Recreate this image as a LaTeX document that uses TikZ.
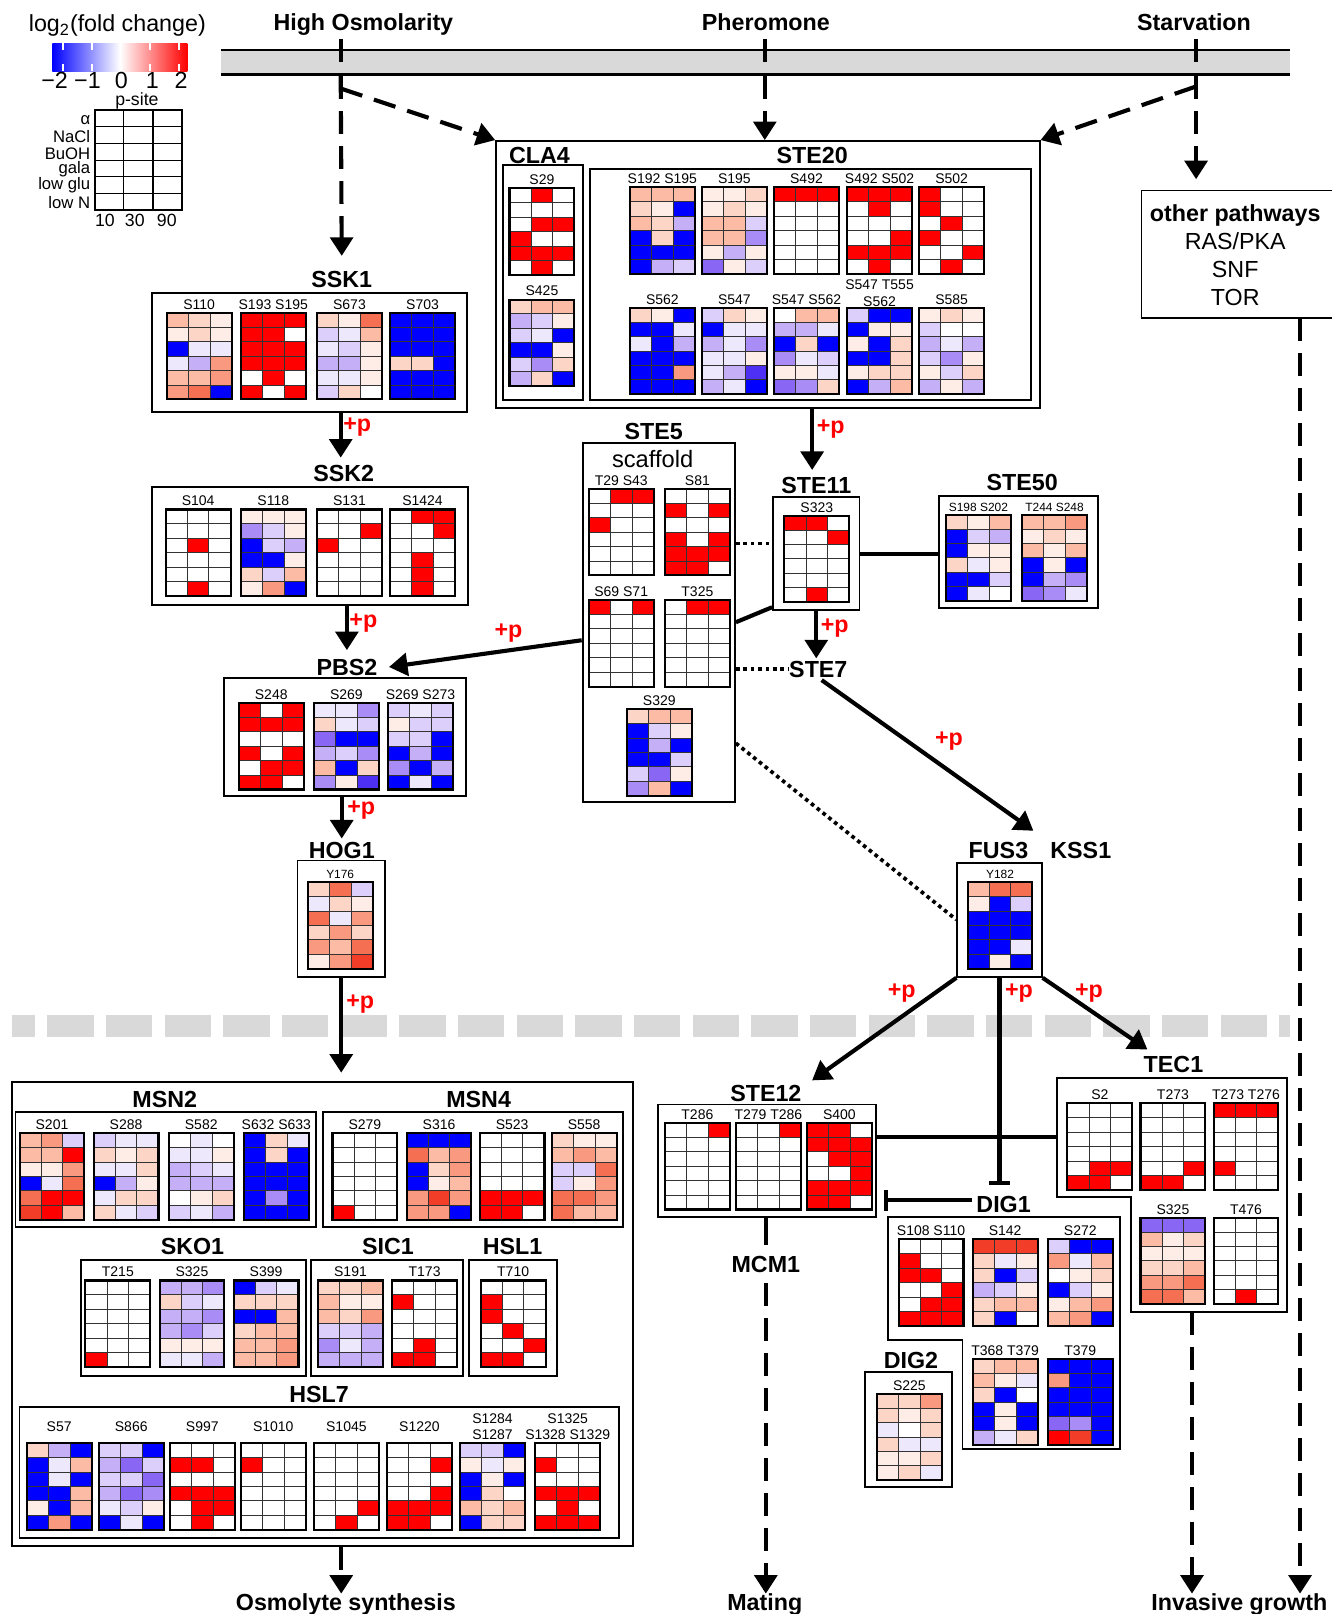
\documentclass[tikz,border=0pt]{standalone}
\usepackage{fontspec}
\setmainfont{Liberation Sans}
\usetikzlibrary{arrows.meta,fit,calc}
\definecolor{hm0}{HTML}{FFFFFF}
\definecolor{hm1}{HTML}{FEEDE6}
\definecolor{hm2}{HTML}{FDD5C6}
\definecolor{hm3}{HTML}{FBBBA5}
\definecolor{hm4}{HTML}{F99A80}
\definecolor{hm5}{HTML}{F56F52}
\definecolor{hm6}{HTML}{F23E28}
\definecolor{hmR}{HTML}{FF0000}
\definecolor{hma}{HTML}{EEE8FD}
\definecolor{hmb}{HTML}{DCCFFB}
\definecolor{hmc}{HTML}{C5B0F8}
\definecolor{hmd}{HTML}{A98CF6}
\definecolor{hme}{HTML}{8A66F4}
\definecolor{hmf}{HTML}{4E30F5}
\definecolor{hmB}{HTML}{0000FF}
\definecolor{memgray}{HTML}{D9D9D9}
\definecolor{gridc}{HTML}{333333}
\newcommand{\fgene}{\fontsize{11.3}{13}\selectfont\bfseries}
\newcommand{\fsite}{\fontsize{6.8}{8}\selectfont}
\newcommand{\ssm}{\fontsize{5.8}{7}\selectfont}
\newcommand{\fleg}{\fontsize{8.6}{10}\selectfont}
\newcommand{\frow}{\fontsize{8.1}{9}\selectfont}
\newcommand{\fmid}{\fontsize{11.3}{13.5}\selectfont}
% heatmap: [label gap]{id}{x}{y}{label}{18 cells}
\newcommand{\hm}[6][2]{%
  \foreach \hv [count=\hk from 0] in {#6}{%
    \pgfmathtruncatemacro{\hr}{floor(\hk/3)}%
    \pgfmathtruncatemacro{\hc}{\hk-3*\hr}%
    \fill[hm\hv] ({#3+21*\hc},{#4+14*\hr}) rectangle ++(21,14);
  }
  \draw[hmgrid] ({#3+21},{#4}) -- ++(0,84) ({#3+42},{#4}) -- ++(0,84);
  \foreach \hj in {1,...,5}{\draw[hmgrid] ({#3},{#4+14*\hj}) -- ++(63,0);}
  \node[hmframe, anchor=north west] (#2) at (#3,#4) {};
  \node[site, anchor=south] (#2-l) at ({#3+31.5},{#4-#1}) {#5};
}
\begin{document}
\begin{tikzpicture}[x=0.5pt,y=-0.5pt,
  gene/.style={font=\fgene, inner sep=0pt},
  site/.style={font=\fsite, inner sep=0.5pt, align=center},
  box/.style={draw, line width=0.9pt, inner sep=0pt},
  hmframe/.style={draw, line width=1pt, minimum width=31.5pt, minimum height=42pt, inner sep=0pt, outer sep=0pt},
  hmgrid/.style={line width=0.45pt, gridc},
  arr/.style={line width=2pt, -{Triangle[length=9pt,width=11pt]}},
  dsh/.style={dash pattern=on 11pt off 6pt},
  dotl/.style={line width=1.8pt, dash pattern=on 1.8pt off 1.8pt},
  inh/.style={line width=2pt, -{Bar[width=10pt,line width=2pt]}},
  plusp/.style={font=\fgene, text=hmR, inner sep=0pt},
  leg/.style={font=\fleg, inner sep=0pt},
  rowl/.style={font=\frow, inner sep=0pt, anchor=east},
]
\useasboundingbox[fill=white] (0,0) rectangle (1294,1568);

% ---------------- legend
\node[font=\fmid, inner sep=0pt, anchor=base] (legt) at (114,31) {log\textsubscript{2}(fold change)};
\shade[left color=hmB, right color=hmR, middle color=white] (51,42) rectangle (182,69);
\foreach \tx in {61,89,118,146,174}{
  \draw[white, line width=1pt] (\tx,42) -- (\tx,49) (\tx,62) -- (\tx,69);
}
\node[font=\fmid, inner sep=0pt] (lg1) at (53,78) {−2};
\node[font=\fmid, inner sep=0pt] (lg2) at (85,78) {−1};
\node[font=\fmid, inner sep=0pt] (lg3) at (118,78) {0};
\node[font=\fmid, inner sep=0pt] (lg4) at (148,78) {1};
\node[font=\fmid, inner sep=0pt] (lg5) at (176,78) {2};
\node[leg] (psite) at (133,98) {p-site};
\draw[line width=1pt] (92,107) rectangle (177,204);
\draw[line width=0.6pt] (120.3,107) -- (120.3,204) (148.7,107) -- (148.7,204);
\foreach \k in {1,...,5}{\draw[line width=0.5pt] (92,{107+16.17*\k}) -- (177,{107+16.17*\k});}
\node[rowl] (lr1) at (88,117) {α};
\node[rowl] (lr2) at (88,133) {NaCl};
\node[rowl] (lr3) at (88,149) {BuOH};
\node[rowl] (lr4) at (88,164.5) {gala};
\node[rowl] (lr5) at (88,180) {low glu};
\node[rowl] (lr6) at (88,197) {low N};
\node[leg] (lc1) at (102,214) {10};
\node[leg] (lc2) at (131,214) {30};
\node[leg] (lc3) at (162,214) {90};

% ---------------- membrane and signals
\node[fit={(215,49) (1253,72)}, fill=memgray, inner sep=0pt] (memb) {};
\draw[line width=1.1pt] (memb.north west) -- (memb.north east) (memb.south west) -- (memb.south east);
\node[gene, anchor=base] (hosm) at (353,30) {High Osmolarity};
\node[gene, anchor=base] (pher) at (744,30) {Pheromone};
\node[gene, anchor=base] (starv) at (1160,30) {Starvation};
\coordinate (hoT) at (331,38); \coordinate (hoB) at (331,74); \coordinate (hoD) at (331,86);
\coordinate (phT) at (743,38); \coordinate (phB) at (743,74);
\coordinate (stT) at (1162,38); \coordinate (stB) at (1162,74); \coordinate (stD) at (1162,84);
\draw[line width=2pt] (hoT) -- (331,60);
\draw[line width=2pt] (phT) -- (743,60);
\draw[line width=2pt] (stT) -- (1162,60);

% gray dashed divider
\draw[memgray, line width=10.5pt, dash pattern=on 22.5pt off 6pt, dash phase=11.5pt] (12,997) -- (1253,997);

% ---------------- boxes
\node[box, fit={(148,285) (454,400)}] (ssk1) {};
\node[box, fit={(148,473) (455,588)}] (ssk2) {};
\node[box, fit={(218,659) (453,773)}] (pbs2) {};
\node[box, fit={(289,836) (374,949)}] (hog1) {};
\node[box, fit={(482,137) (1010,396)}] (cs) {};
\node[box, fit={(489,160) (566,389)}] (cla4in) {};
\node[box, fit={(573,164) (1002,389)}] (ste20in) {};
\node[box, fit={(566,430) (714,779)}] (ste5) {};
\node[box, fit={(751,483) (835,593)}] (ste11) {};
\node[box, fit={(912,482) (1067,591)}] (ste50) {};
\node[box, fit={(930,838) (1012,949)}] (fus3) {};
\node[box, fit={(12,1051) (615,1502)}] (osm) {};
\node[box, fit={(15,1080) (307,1192)}] (msn2) {};
\node[box, fit={(314,1080) (605,1192)}] (msn4) {};
\node[box, fit={(79,1224) (297,1337)}] (sko1) {};
\node[box, fit={(302,1224) (450,1337)}] (sic1) {};
\node[box, fit={(456,1224) (541,1337)}] (hsl1) {};
\node[box, fit={(19,1367) (601,1494)}] (hsl7) {};
\node[box, fit={(639,1073) (851,1182)}] (ste12) {};
\node[box, fit={(840,1333) (925,1445)}] (dig2) {};
\node[box, fit={(1109,185) (1300,309)}] (oth) {};
\draw[line width=0.9pt] (1027,1047) -- (1250,1047) -- (1250,1275) -- (1099,1275) -- (1099,1163) -- (1027,1163) -- cycle;
\draw[line width=0.9pt] (863,1182) -- (1088,1182) -- (1088,1408) -- (935,1408) -- (935,1302) -- (863,1302) -- cycle;
\coordinate (tecW) at (1027,1105);
\coordinate (tecBot) at (1158,1275);
\coordinate (rx) at (1263,309);

\node[font=\fmid, align=center, inner sep=0pt] (otht) at (1200,248) {\textbf{other pathways}\\RAS/PKA\\SNF\\TOR};

% ---------------- gene labels
\node[gene] (ssk1l) at (332,272) {SSK1};
\node[gene] (ssk2l) at (334,460) {SSK2};
\node[gene] (pbs2l) at (337,648) {PBS2};
\node[gene] (hog1l) at (332,826) {HOG1};
\node[gene] (cla4l) at (524,151) {CLA4};
\node[gene] (ste20l) at (789,151) {STE20};
\node[gene] (ste5l) at (635,419) {STE5};
\node[font=\fontsize{11.5}{13}\selectfont, inner sep=0pt] (scaf) at (634,446) {scaffold};
\node[gene] (ste11l) at (793,472) {STE11};
\node[gene] (ste50l) at (993,469) {STE50};
\node[gene] (ste7l) at (795,650) {STE7};
\node[gene] (fus3l) at (970,826) {FUS3};
\node[gene] (kss1l) at (1050,826) {KSS1};
\node[gene] (msn2l) at (160,1068) {MSN2};
\node[gene] (msn4l) at (465,1068) {MSN4};
\node[gene] (sko1l) at (187,1211) {SKO1};
\node[gene] (sic1l) at (377,1211) {SIC1};
\node[gene] (hsl1l) at (498,1211) {HSL1};
\node[gene] (hsl7l) at (310,1355) {HSL7};
\node[gene] (ste12l) at (744,1062) {STE12};
\node[gene] (tec1l) at (1140,1034) {TEC1};
\node[gene] (dig1l) at (975,1170) {DIG1};
\node[gene] (dig2l) at (885,1322) {DIG2};
\node[gene] (mcm1l) at (744,1228) {MCM1};
\node[gene, anchor=base] (osl) at (336,1565) {Osmolyte synthesis};
\node[gene, anchor=base] (mat) at (743,1565) {Mating};
\node[gene, anchor=base] (inv) at (1204,1565) {Invasive growth};

% ---------------- heatmaps
% SSK1
\hm{ssk1a}{162}{304}{S110}{3,2,1,1,2,1,B,a,a,a,c,4,3,3,4,4,5,B}
\hm{ssk1b}{234}{304}{S193 S195}{R,R,R,R,R,0,R,R,R,R,R,R,0,R,0,R,0,R}
\hm{ssk1c}{308}{304}{S673}{2,1,5,b,a,3,a,b,1,c,c,1,a,a,1,b,2,0}
\hm{ssk1d}{379}{304}{S703}{B,B,B,B,B,B,B,B,B,2,2,B,B,B,B,B,B,B}
% SSK2
\hm{ssk2a}{161}{495}{S104}{0,0,0,0,0,0,0,R,0,0,0,0,0,0,0,0,R,0}
\hm{ssk2b}{234}{495}{S118}{1,1,1,d,b,1,B,b,c,B,B,1,2,b,3,1,4,B}
\hm{ssk2c}{308}{495}{S131}{0,0,0,0,0,R,R,0,0,0,0,0,0,0,0,0,0,0}
\hm{ssk2d}{379}{495}{S1424}{0,R,R,0,0,R,0,0,0,0,R,0,0,R,0,0,R,0}
% PBS2
\hm{pbs2a}{232}{683}{S248}{R,0,R,R,R,R,0,0,0,R,0,R,0,R,R,R,R,0}
\hm{pbs2b}{305}{683}{S269}{a,a,d,2,a,b,e,B,B,c,b,d,3,B,2,d,1,f}
\hm{pbs2c}{377}{683}{S269 S273}{b,a,b,1,b,b,b,b,B,B,c,B,d,B,c,B,a,B}
% HOG1
\hm{hog1a}{299}{857}{\ssm Y176}{2,5,b,a,2,1,5,a,4,2,4,2,4,3,5,1,4,6}
% CLA4
\hm{cla4a}{495}{183}{S29}{0,R,0,0,0,0,0,R,R,R,0,0,R,R,R,0,R,0}
\hm{cla4b}{495}{291}{S425}{2,3,3,c,b,1,b,a,B,B,B,1,b,d,2,c,2,B}
% STE20
\hm{s20a}{612}{182}{S192 S195}{3,3,3,2,1,B,3,2,c,B,2,B,B,B,B,B,c,b}
\hm{s20b}{682}{182}{S195}{1,1,2,1,2,1,3,3,b,3,3,d,1,c,1,e,1,b}
\hm{s20c}{752}{182}{S492}{R,R,R,0,0,0,0,0,0,0,0,0,0,0,0,0,0,0}
\hm{s20d}{823}{182}{S492 S502}{R,R,R,0,R,0,0,0,0,0,0,R,R,R,R,0,R,0}
\hm{s20e}{893}{182}{S502}{R,0,0,R,0,0,0,R,0,R,0,0,0,0,R,0,R,0}
\hm{s20f}{612}{299}{S562}{2,1,B,B,B,a,a,B,c,B,B,B,B,B,4,B,B,B}
\hm{s20g}{682}{299}{S547}{b,2,1,B,a,a,c,a,d,a,a,1,a,c,f,c,a,B}
\hm{s20h}{752}{299}{S547 S562}{0,3,3,c,c,a,B,2,B,d,a,b,1,1,a,e,d,2}
\hm[0]{s20i}{823}{299}{S547 T555\\S562}{b,B,B,B,1,1,1,B,2,B,B,2,1,2,2,B,c,3}
\hm{s20j}{893}{299}{S585}{1,2,1,b,0,0,c,a,c,b,d,1,1,b,2,c,1,c}
% STE5
\hm{s5a}{572}{475}{T29 S43}{0,R,R,0,0,0,R,0,0,0,0,0,0,0,0,0,0,0}
\hm{s5b}{646}{475}{S81}{0,0,0,R,0,R,0,0,0,R,0,R,R,R,R,R,R,0}
\hm{s5c}{572}{583}{S69 S71}{R,0,R,0,0,0,0,0,0,0,0,0,0,0,0,0,0,0}
\hm{s5d}{646}{583}{T325}{0,R,R,0,0,0,0,0,0,0,0,0,0,0,0,0,0,0}
\hm{s5e}{609}{689}{S329}{2,3,3,B,b,1,B,c,B,B,B,b,b,e,1,d,3,B}
% STE11
\hm{s11a}{762}{501}{S323}{R,R,0,0,0,R,0,0,0,0,0,0,0,0,0,0,R,0}
% STE50
\hm{s50a}{919}{500}{\ssm S198 S202}{2,1,3,B,b,c,B,1,1,2,a,1,B,B,b,B,a,0}
\hm{s50b}{993}{500}{\ssm T244 S248}{3,3,4,1,2,1,3,1,3,B,1,B,B,c,d,e,d,a}
% FUS3
\hm{fus3a}{940}{857}{\ssm Y182}{3,5,5,1,B,b,B,B,B,B,B,B,B,B,a,B,1,B}
% MSN2
\hm{msn2a}{19}{1101}{S201}{3,4,b,3,3,R,1,1,4,B,a,5,5,R,R,6,R,3}
\hm{msn2b}{91}{1101}{S288}{b,a,a,2,1,2,a,a,2,B,c,1,a,2,2,2,a,b}
\hm{msn2c}{164}{1101}{S582}{0,a,0,a,a,1,c,b,a,c,c,c,0,1,2,b,a,c}
\hm{msn2d}{237}{1101}{S632 S633}{B,2,a,B,2,B,B,B,B,B,B,B,B,d,B,B,B,B}
% MSN4
\hm{msn4a}{323}{1101}{S279}{0,0,0,0,0,0,0,0,0,0,0,0,0,0,0,R,0,0}
\hm{msn4b}{395}{1101}{S316}{B,B,B,5,3,4,B,2,4,B,1,3,4,6,4,4,4,B}
\hm{msn4c}{466}{1101}{S523}{0,0,0,0,0,0,0,0,0,0,0,0,R,R,R,R,R,0}
\hm{msn4d}{536}{1101}{S558}{2,1,1,3,4,3,b,b,5,b,1,4,5,5,4,5,3,3}
% SKO1
\hm{sko1a}{83}{1244}{T215}{0,0,0,0,0,0,0,0,0,0,0,0,0,0,0,R,0,0}
\hm{sko1b}{155}{1244}{S325}{c,c,d,2,b,a,c,c,d,c,d,b,1,1,1,a,a,c}
\hm{sko1c}{227}{1244}{S399}{B,b,a,2,2,2,B,B,3,2,3,3,3,3,4,3,3,4}
% SIC1
\hm{sic1a}{309}{1244}{S191}{2,2,3,3,1,1,3,2,4,b,b,c,d,a,c,c,c,c}
\hm{sic1b}{381}{1244}{T173}{0,0,0,R,0,0,0,0,0,0,0,0,0,R,0,R,R,0}
% HSL1
\hm{hsl1a}{467}{1244}{T710}{0,0,0,R,0,0,R,0,0,0,R,0,0,0,R,R,R,0}
% HSL7
\hm[10]{hsl7a}{26}{1402}{S57}{2,c,B,B,a,3,B,a,B,B,B,3,1,B,3,B,4,B}
\hm[10]{hsl7b}{96}{1402}{S866}{b,b,B,c,e,b,b,b,e,c,e,d,a,b,1,B,a,B}
\hm[10]{hsl7c}{165}{1402}{S997}{0,0,0,R,R,0,0,0,0,R,R,R,0,R,R,0,R,0}
\hm[10]{hsl7d}{234}{1402}{S1010}{0,0,0,R,0,0,0,0,0,0,0,0,0,0,0,0,0,0}
\hm[10]{hsl7e}{305}{1402}{S1045}{0,0,0,0,0,0,0,0,0,0,0,0,0,0,R,0,R,0}
\hm[10]{hsl7f}{376}{1402}{S1220}{0,0,0,0,0,R,0,0,0,0,0,R,R,R,R,R,R,0}
\hm{hsl7g}{447}{1402}{S1284\\S1287}{b,b,B,1,a,1,B,1,B,B,2,0,3,2,3,B,2,2}
\hm{hsl7h}{520}{1402}{S1325\\S1328 S1329}{0,0,0,R,0,0,0,0,0,R,R,R,0,R,0,R,R,R}
% STE12
\hm{s12a}{646}{1091}{T286}{0,0,R,0,0,0,0,0,0,0,0,0,0,0,0,0,0,0}
\hm{s12b}{715}{1091}{T279 T286}{0,0,R,0,0,0,0,0,0,0,0,0,0,0,0,0,0,0}
\hm{s12c}{784}{1091}{S400}{R,R,0,R,R,R,0,R,R,0,0,R,R,R,R,R,R,0}
% TEC1
\hm{tec1a}{1037}{1072}{S2}{0,0,0,0,0,0,0,0,0,0,0,0,0,R,R,R,R,0}
\hm{tec1b}{1108}{1072}{T273}{0,0,0,0,0,0,0,0,0,0,0,0,0,0,R,R,R,0}
\hm{tec1c}{1179}{1072}{T273 T276}{R,R,R,0,0,0,0,0,0,0,0,0,R,0,0,0,0,0}
\hm{tec1d}{1108}{1183}{S325}{e,e,e,3,1,2,1,1,1,2,2,3,4,4,5,5,5,3}
\hm{tec1e}{1179}{1183}{T476}{0,0,0,0,0,0,0,0,0,0,0,0,0,0,0,0,R,0}
% DIG1
\hm{dig1a}{873}{1204}{S108 S110}{0,0,0,R,0,0,R,R,0,0,0,R,0,R,R,R,R,R}
\hm{dig1b}{945}{1204}{S142}{6,6,6,2,a,1,2,B,b,c,b,1,2,3,3,2,B,0}
\hm{dig1c}{1018}{1204}{S272}{b,B,B,4,a,3,0,1,2,B,b,1,1,3,4,3,4,B}
\hm{dig1d}{945}{1320}{T368 T379}{2,3,3,3,1,a,2,B,0,B,1,B,B,1,B,c,a,2}
\hm{dig1e}{1018}{1320}{T379}{B,B,B,4,B,B,B,B,B,B,B,B,e,d,B,R,6,B}
% DIG2
\hm{dig2a}{852}{1354}{S225}{2,2,4,2,1,2,a,0,2,2,a,a,1,1,2,1,2,a}

% ---------------- connectors
\draw[arr,dsh] (hoB) -- ([yshift=7.5pt]ssk1l.north);
\draw[arr,dsh] (hoD) -- (cs.north west);
\draw[arr,dsh] (phB) -- (phB |- cs.north);
\draw[arr,dsh] (stD) -- (cs.north east);
\draw[arr,dsh,shorten >=5pt] (stB) -- (stB |- oth.north);
\draw[arr,dsh] (rx) -- (rx |- inv.north);

\draw[arr] ([xshift=-1.5pt]ssk2l.north |- ssk1.south) -- ([xshift=-1.5pt,yshift=3.5pt]ssk2l.north);
\draw[arr] (pbs2l.north |- ssk2.south) -- ([yshift=4pt]pbs2l.north);
\draw[arr] (hog1l.north |- pbs2.south) -- ([yshift=1.5pt]hog1l.north);
\draw[arr] (hog1.south) -- ($(hog1.south |- osm.north)+(0,-8)$);
\draw[arr,dsh] (hog1.south |- osm.south) -- (hog1.south |- osl.north);
\draw[arr] ([yshift=-8.75pt]ste5.west) -- ([xshift=5.5pt]pbs2l.east);

\draw[arr] ([xshift=-2pt]ste11l.north |- cs.south) -- ([xshift=-2pt,yshift=3.5pt]ste11l.north);
\draw[dotl] ([yshift=5pt]ste11.west -| ste5.east) -- ([yshift=5pt]ste11.west);
\draw[line width=2pt] (ste5.east) -- ([yshift=2pt]ste11.south west);
\draw[line width=2pt] (ste11.east) -- (ste11.east -| ste50.west);
\draw[arr] ([xshift=-1pt]ste7l.north |- ste11.south) -- ([xshift=-1pt,yshift=1pt]ste7l.north);
\draw[dotl] (ste7l.west -| ste5.east) -- (ste7l.west);
\draw[arr, shorten <=2pt] (ste7l.south) -- ([xshift=-4.5pt,yshift=15pt]fus3.north east);
\draw[dotl] ([yshift=-58.75pt]ste5.east) -- (fus3.west);

\draw[arr] (fus3.south west) -- ([xshift=5pt,yshift=2pt]ste12l.north east);
\draw[inh] (fus3.south) -- ($(fus3.south |- dig1l.north)+(0,-10)$);
\draw[arr] (fus3.south east) -- ([xshift=2pt,yshift=3pt]tec1l.north west);
\draw[line width=2pt] (tecW -| ste12.east) -- (tecW);
\draw[inh] ([xshift=-2pt,yshift=2pt]dig1l.west) -- ($(dig1l.west -| ste12.east)+(7,-4)$);
\draw[line width=2pt, shorten >=5pt] (mcm1l.north |- ste12.south) -- (mcm1l.north);
\draw[arr,dsh,shorten <=5pt] (mcm1l.south) -- (mcm1l.south |- mat.north);
\draw[arr,dsh] (tecBot) -- (tecBot |- inv.north);

% ---------------- +p labels
\node[plusp] (pp1) at (347,415) {+p};
\node[plusp] (pp2) at (353,605) {+p};
\node[plusp] (pp3) at (351,787) {+p};
\node[plusp] (pp4) at (350,975) {+p};
\node[plusp] (pp5) at (494,615) {+p};
\node[plusp] (pp6) at (807,417) {+p};
\node[plusp] (pp7) at (811,610) {+p};
\node[plusp] (pp8) at (922,720) {+p};
\node[plusp] (pp9) at (876,965) {+p};
\node[plusp] (pp10) at (990,965) {+p};
\node[plusp] (pp11) at (1058,965) {+p};
\end{tikzpicture}
\end{document}
